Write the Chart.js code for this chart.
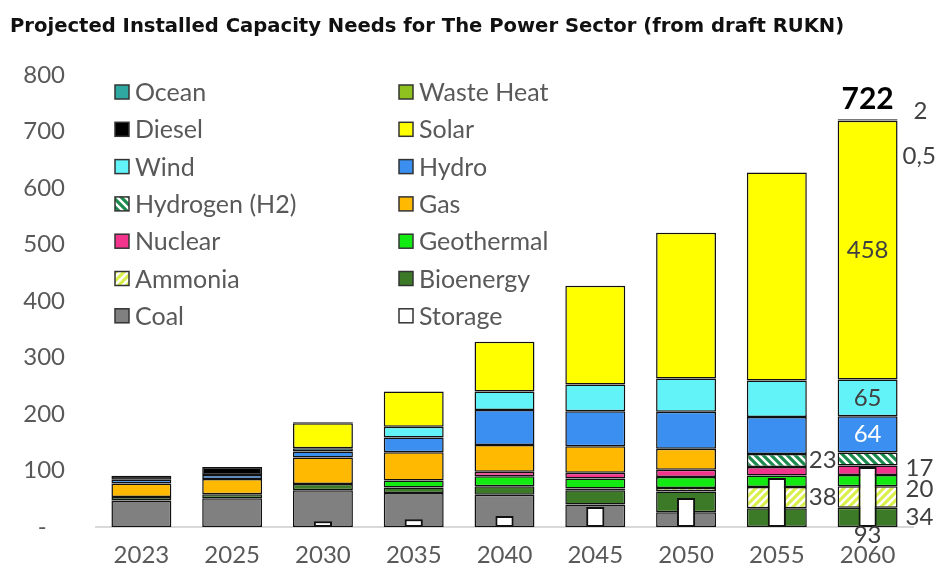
<!DOCTYPE html>
<html>
<head>
<meta charset="utf-8">
<script src="https://cdn.jsdelivr.net/npm/chart.js@4.4.0/dist/chart.umd.min.js"></script>
<style>
  html, body { margin: 0; padding: 0; background: #fff; }
  #wrap { width: 936px; height: 575px; position: relative; }
</style>
</head>
<body>
<div id="wrap"><canvas id="chart"></canvas></div>
<script>
// installed capacity, GW
const years = ['2023', '2025', '2030', '2035', '2040', '2045', '2050', '2055', '2060'];
const coal       = [47, 51, 65, 60, 57, 40, 26, 0, 0];
const bioenergy  = [6, 7, 11, 10, 15, 25, 37, 33, 34];
const ammonia    = [0, 0, 0, 0, 0, 3, 6, 38, 38];
const geothermal = [0, 0, 0, 12.5, 18, 18, 19.5, 20, 20];
const nuclear    = [0, 0, 0, 0, 8, 10, 13, 15, 17];
const gas        = [24, 27, 47, 50, 47, 47, 37, 0, 0];
const hydrogen   = [0, 0, 0, 0, 0, 0, 0, 23, 23];
const hydro      = [6.5, 7, 10.5, 26, 62, 62, 65.5, 65.5, 64];
const wind       = [0, 0, 6, 19, 33, 47, 59, 65, 65];
const solar      = [0, 0, 44, 62.5, 88, 175, 258, 368, 458];
const diesel     = [7, 14, 2, 0, 0, 0, 0, 0, 0];
const wasteHeat  = [0, 0, 0, 0, 0, 0, 0, 0, 0.5];
const ocean      = [0, 0, 0, 0, 0, 0, 0, 0, 2];
const storage    = [0, 0, 9, 12, 17, 31, 45, 76, 93];
const yTicks = [0, 100, 200, 300, 400, 500, 600, 700, 800];

const FONT = 'Lato';
const GREY = '#595959';

function hatch(base, up) {
  const c = document.createElement('canvas');
  c.width = c.height = 8;
  const g = c.getContext('2d');
  g.fillStyle = base;
  g.fillRect(0, 0, 8, 8);
  g.strokeStyle = '#ffffff';
  g.lineWidth = 2.5;
  g.beginPath();
  if (up) {
    g.moveTo(-2, 10); g.lineTo(10, -2);
    g.moveTo(-2, 2); g.lineTo(2, -2);
    g.moveTo(6, 10); g.lineTo(10, 6);
  } else {
    g.moveTo(-2, -2); g.lineTo(10, 10);
    g.moveTo(6, -2); g.lineTo(10, 2);
    g.moveTo(-2, 6); g.lineTo(2, 10);
  }
  g.stroke();
  return g.createPattern(c, 'repeat');
}

// bottom to top of the stack
const series = [
  { label: 'Coal',          data: coal,       color: '#808080' },
  { label: 'Bioenergy',     data: bioenergy,  color: '#3d7a28' },
  { label: 'Ammonia',       data: ammonia,    color: hatch('#d8ef4c', true) },
  { label: 'Geothermal',    data: geothermal, color: '#12ea12' },
  { label: 'Nuclear',       data: nuclear,    color: '#f2348c' },
  { label: 'Gas',           data: gas,        color: '#ffb900' },
  { label: 'Hydrogen (H2)', data: hydrogen,   color: hatch('#1b8a4c', false) },
  { label: 'Hydro',         data: hydro,      color: '#3a8ff0' },
  { label: 'Wind',          data: wind,       color: '#62f3f8' },
  { label: 'Solar',         data: solar,      color: '#ffff00' },
  { label: 'Diesel',        data: diesel,     color: '#000000' },
  { label: 'Waste Heat',    data: wasteHeat,  color: '#8fc21e' },
  { label: 'Ocean',         data: ocean,      color: '#30a8a2' }
];

const datasets = series.map(s => ({
  label: s.label,
  data: s.data.map(v => v || null),
  backgroundColor: s.color,
  borderColor: '#111',
  borderWidth: 1.5,
  borderSkipped: false,
  barPercentage: 0.66,
  categoryPercentage: 1,
  order: 1
}));
datasets.push({
  label: 'Storage',
  data: storage.map(v => v || null),
  yAxisID: 'y2',
  backgroundColor: '#ffffff',
  borderColor: '#111',
  borderWidth: 2,
  borderSkipped: false,
  grouped: false,
  barPercentage: 0.2,
  categoryPercentage: 1,
  order: 0
});

const idx = name => datasets.findIndex(d => d.label === name);

const legendCols = [
  ['Ocean', 'Diesel', 'Wind', 'Hydrogen (H2)', 'Nuclear', 'Ammonia', 'Coal'],
  ['Waste Heat', 'Solar', 'Hydro', 'Gas', 'Geothermal', 'Bioenergy', 'Storage']
];

const titlePlugin = {
  id: 'titleText',
  afterDraw(chart) {
    const ctx = chart.ctx;
    ctx.save();
    ctx.font = 'bold 19.6px "DejaVu Sans"';
    ctx.fillStyle = '#111';
    ctx.textBaseline = 'middle';
    ctx.textAlign = 'left';
    ctx.fillText('Projected Installed Capacity Needs for The Power Sector (from draft RUKN)', 10, 27);
    ctx.restore();
  }
};

const legendPlugin = {
  id: 'twoColLegend',
  afterDraw(chart) {
    const ctx = chart.ctx;
    ctx.save();
    ctx.font = '25px ' + FONT;
    ctx.textBaseline = 'middle';
    ctx.textAlign = 'left';
    legendCols.forEach((col, c) => {
      const bx = c === 0 ? 115 : 399;
      col.forEach((name, r) => {
        const y = 92 + r * 37.3;
        const ds = datasets[idx(name)];
        ctx.fillStyle = ds.backgroundColor;
        ctx.fillRect(bx, y - 7, 14, 14);
        ctx.strokeStyle = '#333';
        ctx.lineWidth = 1.5;
        ctx.strokeRect(bx, y - 7, 14, 14);
        ctx.fillStyle = GREY;
        ctx.fillText(name, bx + 20, y + 1);
      });
    });
    ctx.restore();
  }
};

const fmt = v => String(v).replace('.', ',');

const labelPlugin = {
  id: 'valueLabels',
  afterDatasetsDraw(chart) {
    const ctx = chart.ctx;
    const el = (name, i) => chart.getDatasetMeta(idx(name)).data[i];
    const mid = e => (e.y + e.base) / 2;
    const last = years.length - 1;
    const prev = years.length - 2;
    ctx.save();
    ctx.textBaseline = 'middle';

    // total on top of 2060
    const top = el('Ocean', last);
    const total = series.reduce((s, d) => s + d.data[last], 0);
    ctx.font = 'bold 30px ' + FONT;
    ctx.fillStyle = '#000';
    ctx.textAlign = 'center';
    ctx.fillText(Math.round(total), top.x, top.y - 20);

    ctx.font = '24px ' + FONT;
    ctx.fillStyle = '#404040';
    const right = e => e.x + e.width / 2;

    ctx.textAlign = 'left';
    ctx.fillText(fmt(ocean[last]), right(top) + 16, top.y - 8);
    const wh = el('Waste Heat', last);
    ctx.fillText(fmt(wasteHeat[last]), right(wh) + 5, wh.y + 36);

    ctx.textAlign = 'center';
    const so = el('Solar', last);
    ctx.fillText(fmt(solar[last]), so.x, mid(so));
    const wi = el('Wind', last);
    ctx.fillText(fmt(wind[last]), wi.x, mid(wi));
    const hy = el('Hydro', last);
    ctx.fillStyle = '#ffffff';
    ctx.fillText(fmt(hydro[last]), hy.x, mid(hy));

    ctx.fillStyle = '#404040';
    ctx.textAlign = 'left';
    const h2 = el('Hydrogen (H2)', prev);
    ctx.fillText(fmt(hydrogen[prev]), right(h2) + 2, mid(h2));
    const am = el('Ammonia', prev);
    ctx.fillText(fmt(ammonia[prev]), right(am) + 2, mid(am));

    const nu = el('Nuclear', last);
    ctx.fillText(fmt(nuclear[last]), right(nu) + 8, mid(nu) - 2);
    const ge = el('Geothermal', last);
    ctx.fillText(fmt(geothermal[last]), right(ge) + 8, ge.base + 3);
    const bi = el('Bioenergy', last);
    ctx.fillText(fmt(bioenergy[last]), right(bi) + 8, mid(bi));

    ctx.textAlign = 'center';
    const st = el('Storage', last);
    ctx.fillText(fmt(storage[last]), st.x, st.base + 8);
    ctx.restore();
  }
};

new Chart(document.getElementById('chart'), {
  type: 'bar',
  data: { labels: years, datasets: datasets },
  options: {
    responsive: true,
    maintainAspectRatio: false,
    animation: false,
    devicePixelRatio: 1,
    layout: { padding: { top: 75, right: 23, left: 0, bottom: 0 } },
    plugins: {
      legend: { display: false },
      title: { display: false },
      tooltip: { enabled: false }
    },
    scales: {
      x: {
        stacked: true,
        grid: { display: false, drawTicks: false },
        border: { color: '#d9d9d9', width: 2 },
        ticks: { color: GREY, font: { family: FONT, size: 24 }, padding: 14 },
        afterFit: s => { s.height = 48; }
      },
      y: {
        stacked: true,
        min: 0,
        max: 800,
        afterBuildTicks: s => { s.ticks = yTicks.map(v => ({ value: v })); },
        ticks: {
          color: GREY,
          font: { family: FONT, size: 24 },
          padding: 31,
          callback: v => (v === 0 ? '-   ' : v)
        },
        grid: { display: false, drawTicks: false },
        border: { display: false },
        afterFit: s => { s.width = 96; }
      },
      // storage sits on a hidden secondary axis
      y2: { display: false, min: 0, max: 700 }
    }
  },
  plugins: [titlePlugin, legendPlugin, labelPlugin]
});
</script>
</body>
</html>
